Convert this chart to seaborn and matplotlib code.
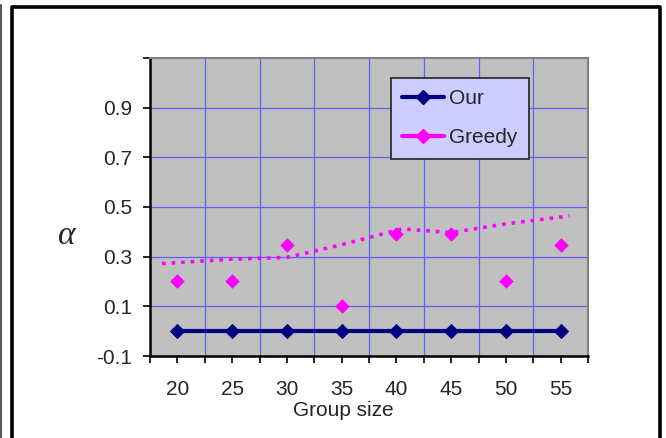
import matplotlib
matplotlib.use('Agg')
import matplotlib.pyplot as plt
from matplotlib.lines import Line2D
import seaborn as sns
import pandas as pd

# ---------- dados ----------
group_size = [20, 25, 30, 35, 40, 45, 50, 55]
our_vals = [0.0, 0.0, 0.0, 0.0, 0.0, 0.0, 0.0, 0.0]
greedy_vals = [0.2, 0.2, 0.345, 0.1, 0.39, 0.39, 0.2, 0.345]
# linha de tendência pontilhada (Greedy)
trend_x = [18.6, 25, 30, 35, 40.5, 45, 50, 55.8]
trend_y = [0.272, 0.29, 0.297, 0.348, 0.412, 0.397, 0.432, 0.464]
y_ticks = [-0.1, 0.1, 0.3, 0.5, 0.7, 0.9]

df_our = pd.DataFrame({'x': group_size, 'y': our_vals})
df_greedy = pd.DataFrame({'x': group_size, 'y': greedy_vals})
df_trend = pd.DataFrame({'x': trend_x, 'y': trend_y})

sns.set_style('white')
plt.rcParams['font.family'] = ['Liberation Sans', 'DejaVu Sans']

fig = plt.figure(figsize=(6.66, 4.38), dpi=100)
ax = fig.add_axes([150 / 666, 1 - 356 / 438, 438 / 666, 298 / 438])
ax.set_facecolor('#c0c0c0')

sns.lineplot(data=df_trend, x='x', y='y', ax=ax, color='#ff00ff',
             linestyle=':', linewidth=2.6, zorder=2)
sns.lineplot(data=df_our, x='x', y='y', ax=ax, color='#000080', linewidth=3,
             marker='D', markersize=7, markeredgecolor='#000080', zorder=3)
sns.scatterplot(data=df_greedy, x='x', y='y', ax=ax, color='#ff00ff', marker='D',
                s=55, edgecolor='#ff00ff', linewidth=0, zorder=4)

ax.set_xlim(17.5, 57.5)
ax.set_ylim(-0.1, 1.1)

# grade: linhas verticais entre categorias, horizontais nos ticks
for b in [22.5, 27.5, 32.5, 37.5, 42.5, 47.5, 52.5]:
    ax.axvline(b, color='#6060ff', linewidth=0.9, zorder=1)
for t in y_ticks[1:]:
    ax.axhline(t, color='#6060ff', linewidth=0.9, zorder=1)

ax.set_xticks(group_size)
ax.set_xticklabels([str(g) for g in group_size], fontsize=15)
ax.set_xticks([17.5, 22.5, 27.5, 32.5, 37.5, 42.5, 47.5, 52.5, 57.5], minor=True)
ax.set_yticks(y_ticks)
ax.set_yticklabels([f'{t:.1f}' for t in y_ticks], fontsize=15)
ax.set_yticks([1.1], minor=True)
ax.tick_params(axis='x', which='both', direction='out', length=5, width=1.2,
               color='black', pad=12, bottom=True)
ax.tick_params(axis='y', which='both', direction='out', length=5, width=1.2,
               color='black', pad=8, left=True)
ax.set_xlabel('')
ax.set_ylabel('')

for s in ['left', 'bottom']:
    ax.spines[s].set_color('black')
    ax.spines[s].set_linewidth(1.8)
for s in ['top', 'right']:
    ax.spines[s].set_color('#808080')
    ax.spines[s].set_linewidth(1.5)

handles = [
    Line2D([], [], color='#000080', linewidth=3, marker='D', markersize=7),
    Line2D([], [], color='#ff00ff', linewidth=3, marker='D', markersize=7),
]
leg = ax.legend(handles, ['Our', 'Greedy'], loc='upper left',
                bbox_to_anchor=((391 - 150) / 438, (356 - 78) / 298),
                fontsize=15, frameon=True, fancybox=False, handlelength=2.0,
                borderpad=0.55, labelspacing=0.95, handletextpad=0.25,
                borderaxespad=0)
leg.get_frame().set_facecolor('#ccccff')
leg.get_frame().set_edgecolor('#222222')
leg.get_frame().set_linewidth(1.2)
leg.get_frame().set_alpha(1)

fig.text(343 / 666, 1 - 411 / 438, 'Group size', ha='center', va='center', fontsize=15)
fig.text(67 / 666, 1 - 236 / 438, 'α', ha='center', va='center', fontsize=24,
         family='Liberation Serif', style='italic')

# moldura externa
fig.add_artist(Line2D([12 / 666, 12 / 666, 660 / 666, 660 / 666],
                      [-0.01, 1 - 7 / 438, 1 - 7 / 438, -0.01],
                      transform=fig.transFigure, color='black', linewidth=2.6))
fig.add_artist(Line2D([1 / 666, 1 / 666], [0, 1 - 5 / 438],
                      transform=fig.transFigure, color='#555555', linewidth=1.5))

fig.savefig('out.png', dpi=100)
